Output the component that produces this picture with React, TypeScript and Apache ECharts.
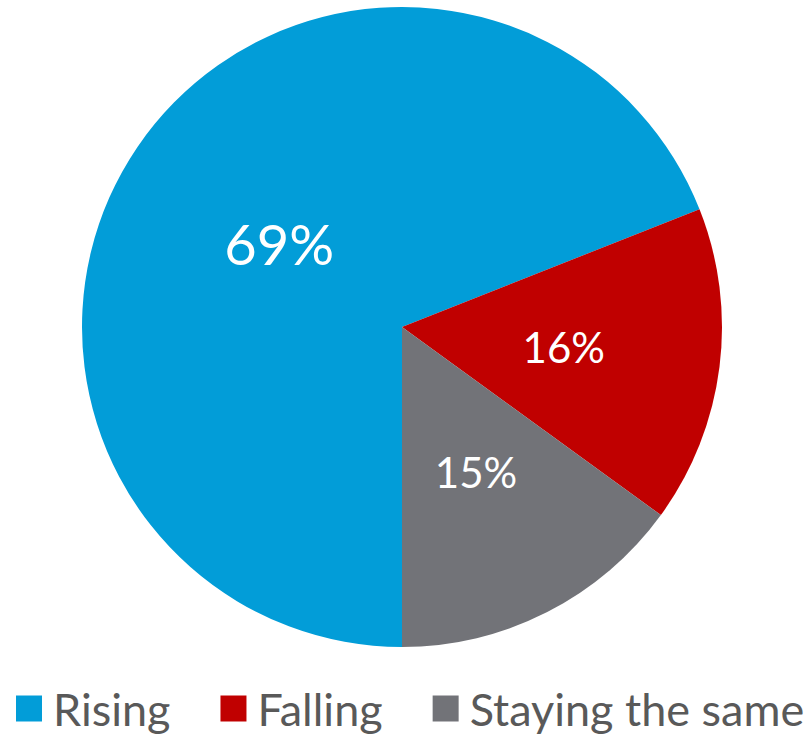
import React, { useEffect, useRef } from "react";
import * as echarts from "echarts";

const categories = ["Rising", "Falling", "Staying the same"];
const values = [69, 16, 15];
const colors = ["#029DD8", "#C00000", "#727378"];
const labelSizes = [56, 42, 42];

export default function App() {
  const ref = useRef<HTMLDivElement>(null);
  useEffect(() => {
    if (!ref.current) return;
    const chart = echarts.init(ref.current, null, { renderer: "svg" });
    chart.setOption({
      animation: false,
      legend: {
        data: categories,
        left: 11,
        top: 681,
        itemWidth: 26,
        itemHeight: 26,
        itemGap: 50,
        icon: "rect",
        textStyle: {
          fontFamily: "Lato",
          fontSize: 45,
          lineHeight: 34,
          color: "#595959",
          padding: [0, 0, 0, 6],
        },
      },
      series: [
        {
          type: "pie",
          center: [402, 327],
          radius: [0, 320],
          startAngle: -90,
          clockwise: true,
          label: {
            show: true,
            position: "inside",
            color: "#ffffff",
            fontFamily: "Lato",
            formatter: "{c}%",
          },
          labelLine: { show: false },
          itemStyle: { borderWidth: 0 },
          emphasis: { disabled: true },
          data: categories.map((c, i) => ({
            name: c,
            value: values[i],
            itemStyle: { color: colors[i] },
            label: { fontSize: labelSizes[i], offset: i === 0 ? [12, 8] : [0, 0] },
          })),
        },
      ],
    });
    return () => chart.dispose();
  }, []);
  return (
    <div
      ref={ref}
      style={{ position: "absolute", left: 0, top: 0, width: 812, height: 734, background: "#fff" }}
    />
  );
}
